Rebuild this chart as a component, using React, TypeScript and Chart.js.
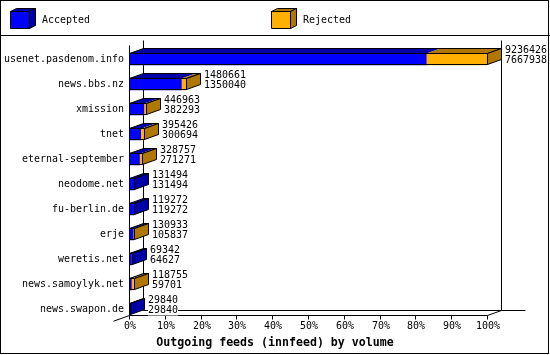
import React, { useEffect, useRef } from "react";
import { Chart, registerables } from "chart.js";

Chart.register(...registerables);

const hosts = [
  "usenet.pasdenom.info",
  "news.bbs.nz",
  "xmission",
  "tnet",
  "eternal-september",
  "neodome.net",
  "fu-berlin.de",
  "erje",
  "weretis.net",
  "news.samoylyk.net",
  "news.swapon.de",
];
const offered = [9236426, 1480661, 446963, 395426, 328757, 131494, 119272, 130933, 69342, 118755, 29840];
const accepted = [7667938, 1350040, 382293, 300694, 271271, 131494, 119272, 105837, 64627, 59701, 29840];
const xTicks = [0, 10, 20, 30, 40, 50, 60, 70, 80, 90, 100];
const seriesNames = ["Accepted", "Rejected"];
const title = "Outgoing feeds (innfeed) by volume";

const maxOffered = Math.max(...offered);
const acceptedPct = accepted.map((v) => (v / maxOffered) * 100);
const rejectedPct = offered.map((v, i) => ((v - accepted[i]) / maxOffered) * 100);

const BLUE = "#0000ff";
const BLUE_DARK = "#0000a8";
const ORANGE = "#ffb000";
const BROWN = "#b07800";
const D = 14;
const E = 5;
const MONO = '"DejaVu Sans Mono", "Liberation Mono", monospace';
const FS = 11;
const SX = 6 / (0.602 * FS);

const px = (v: number) => Math.round(v) + 0.5;

function poly(ctx: CanvasRenderingContext2D, pts: number[][], fill: string | null, stroke = true) {
  ctx.beginPath();
  ctx.moveTo(pts[0][0], pts[0][1]);
  for (let i = 1; i < pts.length; i++) ctx.lineTo(pts[i][0], pts[i][1]);
  ctx.closePath();
  if (fill) {
    ctx.fillStyle = fill;
    ctx.fill();
  }
  if (stroke) {
    ctx.strokeStyle = "#000";
    ctx.lineWidth = 1;
    ctx.stroke();
  }
}

function line(ctx: CanvasRenderingContext2D, x1: number, y1: number, x2: number, y2: number) {
  ctx.beginPath();
  ctx.moveTo(x1, y1);
  ctx.lineTo(x2, y2);
  ctx.strokeStyle = "#000";
  ctx.lineWidth = 1;
  ctx.stroke();
}

function text(ctx: CanvasRenderingContext2D, s: string, x: number, y: number, align: CanvasTextAlign) {
  ctx.save();
  ctx.translate(x, y);
  ctx.scale(SX, 1);
  ctx.font = `${FS}px ${MONO}`;
  ctx.textAlign = align;
  ctx.textBaseline = "middle";
  ctx.fillStyle = "#000";
  ctx.fillText(s, 0, 0);
  ctx.restore();
}

const plugin3d = {
  id: "innfeed3d",
  beforeDatasetsDraw(chart: any) {
    const ctx: CanvasRenderingContext2D = chart.ctx;
    const W = chart.width;
    const H = chart.height;
    const xs = chart.scales.x;
    const area = chart.chartArea;
    ctx.save();
    ctx.fillStyle = "#fff";
    ctx.fillRect(0, 0, W, H);
    ctx.strokeStyle = "#000";
    ctx.lineWidth = 1;
    ctx.strokeRect(0.5, 0.5, W - 2, H - 2);
    line(ctx, 0, 35.5, W, 35.5);
    const legendItems = [
      { x: 10, label: seriesNames[0], front: BLUE, dark: BLUE_DARK },
      { x: 271, label: seriesNames[1], front: ORANGE, dark: BROWN },
    ];
    legendItems.forEach((it) => {
      const l = it.x + 0.5, r = it.x + 19.5, t = 11.5, b = 28.5;
      poly(ctx, [[l, t], [r, t], [r, b], [l, b]], it.front);
      poly(ctx, [[l, t], [l + 6, t - 3], [r + 6, t - 3], [r, t]], it.dark);
      poly(ctx, [[r, t], [r + 6, t - 3], [r + 6, b - 3], [r, b]], it.dark);
      text(ctx, it.label, it.x + 32, 20.5, "left");
    });

    const x0 = xs.getPixelForValue(0);
    const x100 = xs.getPixelForValue(100);
    const frontTop = area.top - 1.5;
    const frontBot = area.bottom - 6.5;
    line(ctx, px(x0 + D), px(frontTop - E), px(x0 + D), px(frontBot - E));
    line(ctx, px(x100 + D), px(frontTop - E), px(x100 + D), px(frontBot - E));
    line(ctx, px(x0 + D), px(frontBot - E), px(x100 + D + 24), px(frontBot - E));
    line(ctx, px(x0), px(frontTop), px(x0), px(frontBot));
    line(ctx, px(x0), px(frontBot), px(x100), px(frontBot));
    line(ctx, px(x100), px(frontBot), px(x100 + D), px(frontBot - E));
    line(ctx, px(x0 - 16), px(frontBot) + (16 * E) / D, px(x0), px(frontBot));
    xTicks.forEach((t) => {
      const x = xs.getPixelForValue(t);
      line(ctx, px(x), px(frontBot), px(x), px(frontBot) + 4);
      text(ctx, t + "%", Math.round(x) + 1, frontBot + 11.5, "center");
    });
    ctx.font = `bold 11.6px ${MONO}`;
    ctx.textAlign = "center";
    ctx.textBaseline = "middle";
    ctx.fillStyle = "#000";
    ctx.fillText(title, W / 2, 342.5);
    ctx.restore();
  },
  afterDatasetsDraw(chart: any) {
    const ctx: CanvasRenderingContext2D = chart.ctx;
    const ys = chart.scales.y;
    const m0 = chart.getDatasetMeta(0).data;
    const m1 = chart.getDatasetMeta(1).data;
    ctx.save();
    hosts.forEach((h, i) => {
      const a = m0[i] as any;
      const b = m1[i] as any;
      const x0 = px(a.base);
      const xb = px(a.x);
      const xo = px(b.x);
      const top = px(a.y - a.height / 2);
      const bot = px(a.y + a.height / 2) - 1;
      if (xb > x0) poly(ctx, [[x0, top], [x0 + D, top - E], [xb + D, top - E], [xb, top]], BLUE_DARK, false);
      if (xo > xb) poly(ctx, [[xb, top], [xb + D, top - E], [xo + D, top - E], [xo, top]], BROWN, false);
      const last = xo > xb ? xo : xb;
      const sideColor = xo > xb ? BROWN : BLUE_DARK;
      poly(ctx, [[x0, top], [last, top], [last, bot], [x0, bot]], null);
      poly(ctx, [[x0, top], [x0 + D, top - E], [last + D, top - E], [last, top]], null);
      poly(ctx, [[last, top], [last + D, top - E], [last + D, bot - E], [last, bot]], sideColor);
      const lx = last + D + 3.5;
      const t1 = String(offered[i]);
      const t2 = String(accepted[i]);
      const w = Math.max(t1.length, t2.length) * 6;
      ctx.fillStyle = "#fff";
      ctx.fillRect(lx, a.y + 1.5 - 4, w, 9);
      text(ctx, t1, lx, a.y - 8.5, "left");
      text(ctx, t2, lx, a.y + 1.5, "left");
      text(ctx, h, 124, ys.getPixelForValue(i) + 0.5, "right");
    });
    ctx.restore();
  },
};

export default function App() {
  const ref = useRef<HTMLCanvasElement | null>(null);
  useEffect(() => {
    document.body.style.margin = "0";
    const canvas = ref.current!;
    const chart = new Chart(canvas, {
      type: "bar",
      data: {
        labels: hosts,
        datasets: [
          { label: seriesNames[0], data: acceptedPct, backgroundColor: BLUE, borderWidth: 0, barThickness: 12 },
          { label: seriesNames[1], data: rejectedPct, backgroundColor: ORANGE, borderWidth: 0, barThickness: 12 },
        ],
      },
      options: {
        indexAxis: "y",
        responsive: false,
        animation: false,
        devicePixelRatio: 1,
        layout: { padding: { left: 129, right: 63, top: 46.5, bottom: 33.5 } },
        plugins: { legend: { display: false }, tooltip: { enabled: false } },
        scales: {
          x: { stacked: true, min: 0, max: 100, display: false },
          y: { stacked: true, display: false },
        },
      },
      plugins: [plugin3d],
    });
    return () => chart.destroy();
  }, []);
  return <canvas ref={ref} width={550} height={355} style={{ display: "block" }} />;
}
